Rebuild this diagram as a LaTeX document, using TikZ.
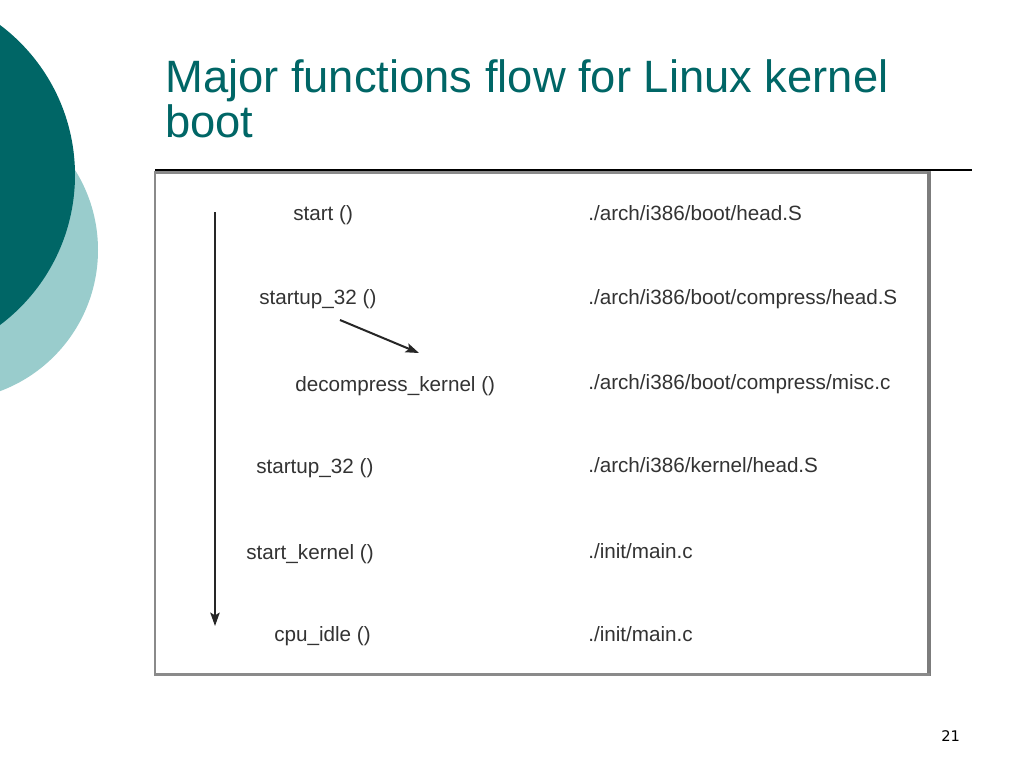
\documentclass[tikz,border=0pt]{standalone}
\usepackage{fontspec}
\setmainfont{Liberation Sans}
\newfontfamily\numfont{DejaVu Sans}
\usetikzlibrary{arrows.meta}
\definecolor{darkteal}{HTML}{006666}
\definecolor{lightteal}{HTML}{99CCCC}
\definecolor{boxgray}{HTML}{8A8A8A}
\definecolor{txtgray}{HTML}{333333}
\begin{document}
\begin{tikzpicture}[x=0.75pt,y=-0.75pt,
  fn/.style={anchor=base west,inner sep=0pt,text=txtgray,font=\fontsize{15.5pt}{18pt}\selectfont},
  flowarrow/.style={draw=black!85,line width=1.5pt,-{Stealth[length=10pt,width=7pt,inset=2pt]}}]
\useasboundingbox (0,0) rectangle (1024,768);
\fill[white] (0,0) rectangle (1024,768);
% decorative circles
\fill[lightteal] (-52.6,250) circle[radius=150.6];
\fill[darkteal] (-112.5,175) circle[radius=187.5];
% title
\node[anchor=base west,inner sep=0pt,text=darkteal,font=\fontsize{34pt}{40pt}\selectfont] (t1) at (165,92) {Major functions flow for Linux kernel};
\node[anchor=base west,inner sep=0pt,text=darkteal,font=\fontsize{34pt}{40pt}\selectfont] (t2) at (165,137) {boot};
% rule
\draw[black,line width=0.9pt] (155,170) -- (972,170);
% box
\draw[boxgray,line width=0.8pt] (155,172) rectangle (930,675);
\draw[boxgray,line width=2.2pt] (155,172.5) -- (930,172.5);
\draw[boxgray!90!black,line width=2.6pt] (929,172) -- (929,675.5);
\draw[boxgray,line width=1.8pt] (155,674.5) -- (930,674.5);
% left column
\node[fn] (f1) at (293,220) {start ()};
\node[fn] (f2) at (259,304) {startup\_32 ()};
\node[fn] (f3) at (295,391) {decompress\_kernel ()};
\node[fn] (f4) at (256,473) {startup\_32 ()};
\node[fn] (f5) at (246,559) {start\_kernel ()};
\node[fn] (f6) at (274,641) {cpu\_idle ()};
% right column
\node[fn] (p1) at (588,220) {./arch/i386/boot/head.S};
\node[fn] (p2) at (588,304) {./arch/i386/boot/compress/head.S};
\node[fn] (p3) at (588,389) {./arch/i386/boot/compress/misc.c};
\node[fn] (p4) at (588,472) {./arch/i386/kernel/head.S};
\node[fn] (p5) at (588,558) {./init/main.c};
\node[fn] (p6) at (588,641) {./init/main.c};
% arrows
\coordinate (vtop) at (215,212);
\coordinate (vbot) at (215,626);
\draw[flowarrow] (vtop) -- (vbot);
\coordinate (dstart) at (340,320);
\coordinate (dend) at (419,353);
\draw[flowarrow] (dstart) -- (dend);
% page number
\node[anchor=base west,inner sep=0pt,text=black,font=\numfont\fontsize{11pt}{13pt}\selectfont] (pg) at (941,741) {21};
\end{tikzpicture}
\end{document}
